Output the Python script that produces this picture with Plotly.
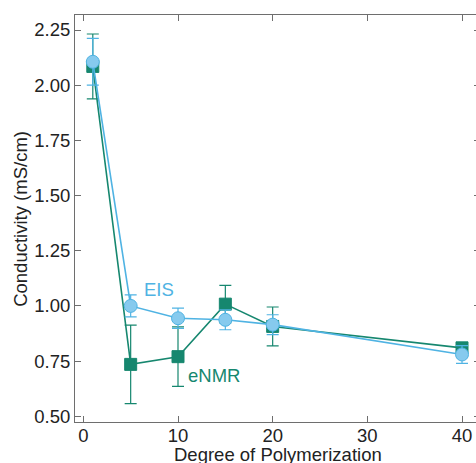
import plotly.graph_objects as go

dp = [1, 5, 10, 15, 20, 40]
eis = [2.106, 1.00, 0.944, 0.937, 0.915, 0.78]
eis_err = [0.106, 0.05, 0.046, 0.045, 0.045, 0.04]
enmr = [2.085, 0.735, 0.77, 1.008, 0.907, 0.81]
enmr_err = [0.147, 0.178, 0.135, 0.085, 0.088, 0.02]

EIS_LINE = "#4FB3E3"
EIS_FILL = "#86CAEE"
ENMR = "#16876F"
FONT = "Liberation Sans, Arial"

fig = go.Figure()
fig.add_trace(go.Scatter(
    x=dp, y=enmr, mode="lines+markers", name="eNMR",
    line=dict(color=ENMR, width=1.6),
    marker=dict(symbol="square", size=12, color=ENMR, line=dict(color=ENMR, width=1)),
    error_y=dict(type="data", array=enmr_err, color=ENMR, thickness=1.2, width=6),
))
fig.add_trace(go.Scatter(
    x=dp, y=eis, mode="lines+markers", name="EIS",
    line=dict(color=EIS_LINE, width=1.6),
    marker=dict(symbol="circle", size=13, color=EIS_FILL, line=dict(color=EIS_LINE, width=1)),
    error_y=dict(type="data", array=eis_err, color=EIS_LINE, thickness=1.2, width=6),
))

fig.add_annotation(x=8.0, y=1.075, xref="x", yref="y", text="EIS", showarrow=False,
                   font=dict(family=FONT, size=18.5, color=EIS_LINE))
fig.add_annotation(x=13.75, y=0.685, xref="x", yref="y", text="eNMR", showarrow=False,
                   font=dict(family=FONT, size=18.5, color=ENMR))

# axis titles
fig.add_annotation(x=0.5, y=-0.081, xref="paper", yref="paper", yanchor="middle",
                   text="Degree of Polymerization", showarrow=False,
                   font=dict(family=FONT, size=18.5, color="#222"))
fig.add_annotation(x=-0.135, y=0.5, xref="paper", yref="paper", xanchor="center",
                   text="Conductivity (mS/cm)", showarrow=False, textangle=-90,
                   font=dict(family=FONT, size=18.5, color="#222"))

axis_common = dict(
    showline=True, linecolor="#6e6e6e", linewidth=1, mirror="ticks",
    ticks="inside", ticklen=6, tickcolor="#6e6e6e", tickwidth=1,
    showgrid=False, zeroline=False, automargin=False,
    tickfont=dict(family=FONT, size=18.5, color="#222"),
)

fig.update_layout(
    width=490, height=463,
    margin=dict(l=75, r=10, t=15, b=41),
    paper_bgcolor="white", plot_bgcolor="white",
    showlegend=False,
    xaxis=dict(range=[-0.88, 41.9], tickvals=[0, 10, 20, 30, 40],
               ticklabelstandoff=-3, **axis_common),
    yaxis=dict(range=[0.474, 2.318], tickvals=[0.5, 0.75, 1.0, 1.25, 1.5, 1.75, 2.0, 2.25],
               tickformat=".2f", **axis_common),
)

fig.write_html("out.html")
